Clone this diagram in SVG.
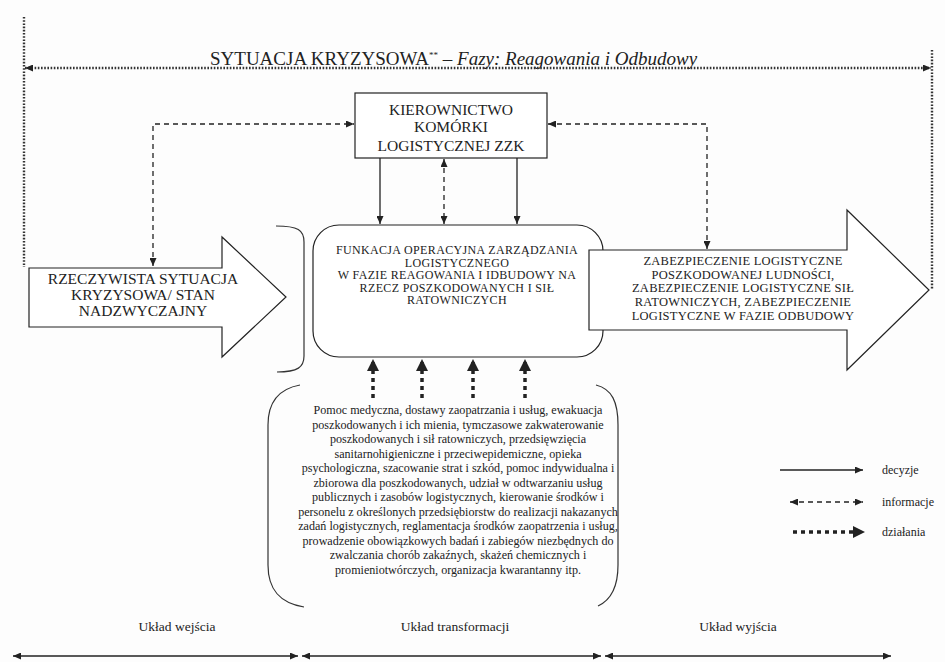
<svg xmlns="http://www.w3.org/2000/svg" width="945" height="662" viewBox="0 0 945 662" font-family="'Liberation Serif', 'DejaVu Serif', serif">
  <style>
    text { font-family: 'Liberation Serif', 'DejaVu Serif', serif; fill: #222; }
    .caps { font-size: 15.5px; text-anchor: middle; }
    .small { font-size: 12.5px; letter-spacing: 0.25px; text-anchor: middle; }
    .mid { font-size: 12px; letter-spacing: 0.35px; text-anchor: middle; }
    .body { font-size: 12.1px; text-anchor: middle; }
    .label { font-size: 13.5px; text-anchor: middle; }
    .legend { font-size: 12px; }
    .shape { fill: #fff; stroke: #222; stroke-width: 1.2; }
    .brace { fill: none; stroke: #333; stroke-width: 1.2; }
    .solid { fill: none; stroke: #222; stroke-width: 1.3; }
    .dashed { fill: none; stroke: #222; stroke-width: 1.3; stroke-dasharray: 5 4; }
    .dotted { fill: none; stroke: #333; stroke-width: 2.4; stroke-dasharray: 1.6 1.6; }
    .action { fill: none; stroke: #222; stroke-width: 3.5; stroke-dasharray: 4 4; }
  </style>
  <defs>
    <marker id="arr" viewBox="0 0 8 7" refX="8" refY="3.5" markerWidth="8" markerHeight="7" markerUnits="userSpaceOnUse" orient="auto-start-reverse">
      <path d="M0,0 L8,3.5 L0,7 z" fill="#222"/>
    </marker>
    <marker id="arrBig" viewBox="0 0 12 12" refX="12" refY="6" markerWidth="12" markerHeight="12" markerUnits="userSpaceOnUse" orient="auto-start-reverse">
      <path d="M0,0 L12,6 L0,12 z" fill="#222"/>
    </marker>
  </defs>

  <rect width="945" height="662" fill="#fdfdfd"/>

  <!-- title over the crisis-situation span -->
  <g id="title">
    <text x="210" y="65" style="font-size:19px">SYTUACJA KRYZYSOWA<tspan dy="-7" style="font-size:9px">**</tspan><tspan dy="7"> – </tspan><tspan font-style="italic">Fazy: Reagowania i Odbudowy</tspan></text>
  </g>

  <!-- management of the logistics cell -->
  <g id="kierownictwo">
    <rect class="shape" x="355" y="93" width="192" height="65"/>
    <text class="caps" x="451" y="115">KIEROWNICTWO</text>
    <text class="caps" x="451" y="132">KOMÓRKI</text>
    <text class="caps" x="451" y="151">LOGISTYCZNEJ ZZK</text>
  </g>

  <!-- input arrow -->
  <g id="wejscie">
    <path class="shape" d="M29,268 H222 V237 L286,297 L222,357 V327 H29 Z"/>
    <text class="caps" x="143" y="284">RZECZYWISTA SYTUACJA</text>
    <text class="caps" x="143" y="300">KRYZYSOWA/ STAN</text>
    <text class="caps" x="143" y="316">NADZWYCZAJNY</text>
  </g>

  <!-- operational function -->
  <g id="funkcja">
    <path class="brace" d="M276,226 C298,226 304,230 304,242 V356 C304,367 298,372 277,372"/>
    <rect class="shape" x="313" y="225" width="290" height="132" rx="26" ry="26"/>
    <text class="mid" x="457" y="254">FUNKACJA OPERACYJNA ZARZĄDZANIA</text>
    <text class="mid" x="457" y="266.5">LOGISTYCZNEGO</text>
    <text class="mid" x="457" y="279">W FAZIE REAGOWANIA I IDBUDOWY NA</text>
    <text class="mid" x="457" y="291.5">RZECZ POSZKODOWANYCH I SIŁ</text>
    <text class="mid" x="457" y="304">RATOWNICZYCH</text>
  </g>

  <!-- output arrow -->
  <g id="wyjscie">
    <path class="shape" d="M589,250 H847 V210 L929,290 L847,370 V330 H589 Z"/>
    <text class="small" x="743" y="265">ZABEZPIECZENIE LOGISTYCZNE</text>
    <text class="small" x="743" y="278.5">POSZKODOWANEJ LUDNOŚCI,</text>
    <text class="small" x="743" y="292">ZABEZPIECZENIE LOGISTYCZNE SIŁ</text>
    <text class="small" x="743" y="305.5">RATOWNICZYCH, ZABEZPIECZENIE</text>
    <text class="small" x="743" y="320">LOGISTYCZNE W FAZIE ODBUDOWY</text>
  </g>

  <!-- actions feeding the operational function -->
  <g id="dzialania">
    <path class="brace" d="M300,385 C278,389 268,402 268,425 V565 C268,590 280,603 304,607"/>
    <path class="brace" d="M596,385 C612,389 618,402 618,425 V565 C618,588 611,600 598,606"/>
    <text class="body" x="458" y="414">Pomoc medyczna, dostawy zaopatrzania i usług, ewakuacja</text>
    <text class="body" x="458" y="428.5">poszkodowanych i ich mienia, tymczasowe zakwaterowanie</text>
    <text class="body" x="458" y="443">poszkodowanych i sił ratowniczych, przedsięwzięcia</text>
    <text class="body" x="458" y="457.5">sanitarnohigieniczne i przeciwepidemiczne, opieka</text>
    <text class="body" x="458" y="472">psychologiczna, szacowanie strat i szkód, pomoc indywidualna i</text>
    <text class="body" x="458" y="486.5">zbiorowa dla poszkodowanych, udział w odtwarzaniu usług</text>
    <text class="body" x="458" y="501">publicznych i zasobów logistycznych, kierowanie środków i</text>
    <text class="body" x="458" y="515.5">personelu z określonych przedsiębiorstw do realizacji nakazanych</text>
    <text class="body" x="458" y="530">zadań logistycznych, reglamentacja środków zaopatrzenia i usług,</text>
    <text class="body" x="458" y="544.5">prowadzenie obowiązkowych badań i zabiegów niezbędnych do</text>
    <text class="body" x="458" y="559">zwalczania chorób zakaźnych, skażeń chemicznych i</text>
    <text class="body" x="458" y="573.5">promieniotwórczych, organizacja kwarantanny itp.</text>
  </g>

  <!-- legend -->
  <g id="legenda">
    <path class="solid" d="M780,470 H863" marker-end="url(#arr)"/>
    <text class="legend" x="882" y="474">decyzje</text>
    <path class="dashed" d="M790,502 H863" marker-start="url(#arr)" marker-end="url(#arr)"/>
    <text class="legend" x="882" y="506">informacje</text>
    <path class="action" d="M793,532 H865" marker-end="url(#arrBig)"/>
    <text class="legend" x="882" y="536">działania</text>
  </g>

  <!-- system parts along the bottom -->
  <g id="uklady">
    <text class="label" x="177" y="631">Układ wejścia</text>
    <text class="label" x="455" y="631">Układ transformacji</text>
    <text class="label" x="738" y="631">Układ wyjścia</text>
  </g>

  <g id="connectors">
    <!-- crisis situation span -->
    <path class="dotted" d="M24,17 V267"/>
    <path class="dotted" d="M932,50 V290"/>
    <path class="dotted" d="M25,68 H931" marker-start="url(#arr)" marker-end="url(#arr)"/>

    <!-- information flows -->
    <path class="dashed" d="M153,266 V124 H354" marker-start="url(#arr)" marker-end="url(#arr)"/>
    <path class="dashed" d="M707,249 V124 H548" marker-start="url(#arr)" marker-end="url(#arr)"/>
    <path class="dashed" d="M444,159 V224" marker-start="url(#arr)" marker-end="url(#arr)"/>

    <!-- decisions -->
    <path class="solid" d="M380,158 V224" marker-end="url(#arr)"/>
    <path class="solid" d="M517,158 V224" marker-end="url(#arr)"/>

    <!-- actions -->
    <path class="action" d="M373,398 V359" marker-end="url(#arrBig)"/>
    <path class="action" d="M422,398 V359" marker-end="url(#arrBig)"/>
    <path class="action" d="M473,398 V359" marker-end="url(#arrBig)"/>
    <path class="action" d="M525,398 V359" marker-end="url(#arrBig)"/>

    <!-- bottom spans -->
    <path class="solid" d="M13,656 H298" marker-start="url(#arr)" marker-end="url(#arr)"/>
    <path class="solid" d="M302,656 H601" marker-start="url(#arr)" marker-end="url(#arr)"/>
    <path class="solid" d="M605,656 H891" marker-start="url(#arr)" marker-end="url(#arr)"/>
  </g>
</svg>
